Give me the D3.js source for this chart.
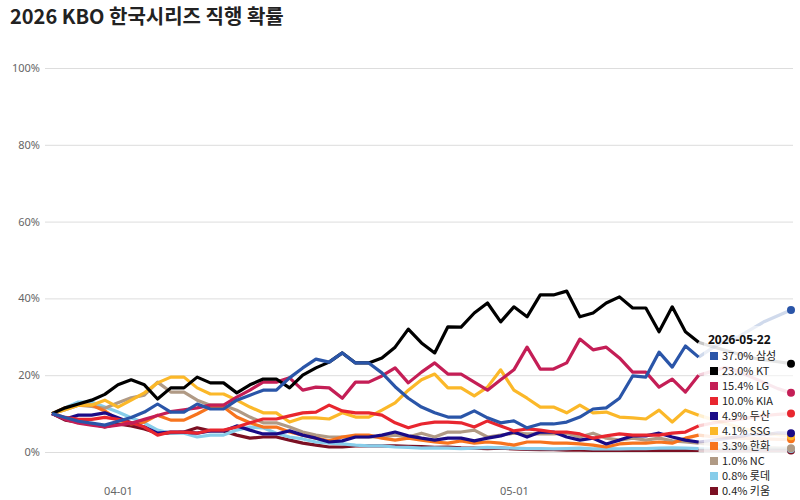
<!DOCTYPE html>
<html><head><meta charset="utf-8">
<script src="https://cdn.jsdelivr.net/npm/d3@7"></script>
<style>body{margin:0;background:#fff;font-family:"Noto Sans CJK KR","Noto Sans",sans-serif}</style>
</head><body><svg id="c" width="800" height="500"></svg>
<script>
const startDate = "2026-03-27";
const hoverIndex = 49;
const teams = ["삼성","KT","LG","KIA","두산","SSG","한화","NC","롯데","키움"];
const colors = ["#2a55a8","#000000","#c41e56","#e8262f","#1a0b86","#fbb829","#f7741e","#b09a85","#87cdea","#7b1023"];
const samsung=[10,9,8,7.5,7,8,9,10.4,12.5,10.4,10.4,12.5,11.2,11.2,13.5,14.8,16.1,16.1,19.3,21.9,24.2,23.4,25.8,23.2,23.2,20.6,17,14,11.7,10.2,9.1,9.1,10.7,8.9,7.6,8.1,6.3,7.3,7.3,7.8,9.1,11.2,11.5,14,19.8,19.5,26,22.1,27.6,24.7,27,29,30,32,34,35.5,37];
const kt=[10,11.5,12.5,13.5,15,17.5,18.8,17.5,13.8,16.7,16.7,19.5,18,18,15.4,17.5,19,19,16.7,20,21.9,23.4,25.8,23.2,23.2,24.5,27.3,32,28.4,25.8,32.6,32.5,36.2,38.8,33.9,37.8,35.2,40.9,40.9,41.9,35.2,36.2,38.8,40.4,37.5,37.5,31.3,37.8,31.3,28.6,27.5,26.5,25.5,24.5,24,23.5,23];
const lg=[10,8.5,7.5,7,6.5,7,7.5,8.5,9.5,10.5,11,11.5,12.2,12.2,14.3,16.1,18.2,18.2,19.3,16.1,16.9,16.7,14,18.2,18.2,19.8,21.9,18,20.8,23.2,20.3,20.3,18.2,16.1,18.8,21.4,27.3,21.6,21.6,23.2,29.4,26.6,27.3,24.5,20.8,20.8,16.9,19,15.6,20,21,22,21,19.5,18,16.5,15.4];
const kia=[10,9,8.5,8.5,9,8.5,7.6,6.5,4.4,5.2,5.2,4.9,5.7,5.7,6.5,7.6,8.6,8.6,9.4,10.2,10.4,12.2,10.7,10.2,10.2,9.6,7.6,6.3,7.3,7.8,7.8,7.6,6.5,8.1,6.8,5.5,6,5.7,5.2,5.2,4.7,3.6,4.2,4.7,4.4,4.4,4.4,4.9,5.2,6.8,7.5,8,8.5,9,9.5,9.8,10];
const doosan=[10,8.6,9.6,9.6,10.2,8.9,7.6,6.5,4.9,5.2,5.2,4.9,5.5,5.5,6.8,5.7,4.7,4.7,5.5,4.4,3.6,2.6,2.9,3.9,3.9,4.4,5.2,4.2,3.6,3.1,3.6,3.6,2.9,3.6,4.2,5.2,3.9,5.2,5.2,3.9,3.1,3.6,2.1,3.1,4.2,4.2,4.9,3.9,3.1,2.6,3,3.5,4,4.5,4.5,5,4.9];
const ssg=[10,11,12.2,12.2,13.5,11.7,13.5,15.4,18,19.5,19.5,16.7,15.1,15.1,13.5,11.7,10.2,10.2,7.8,8.9,8.9,8.6,10.2,9.1,9.1,10.9,12.8,16.1,18.8,20.3,16.7,16.7,14.6,16.9,21.4,16.1,14,11.7,11.7,10.2,12.2,10.2,10.4,9.1,8.9,8.6,10.9,7.8,10.9,9.6,8.5,7.5,6.5,5.5,5,4.5,4.1];
const hanwha=[10,11.5,12.2,12.2,10.7,8.3,7.3,7.8,9.6,8.3,8.3,9.9,11.7,11.7,9.1,7.6,6.5,6.5,5.2,4.4,3.6,2.9,3.9,4.4,4.4,3.6,3.1,3.6,3.1,2.6,2.3,2.9,2.3,2.6,2.3,1.8,2.6,2.6,2.3,2.3,2.1,1.8,1.3,2.1,2.3,2.3,2.6,2.3,3.6,4.4,4,3.8,3.6,3.5,3.4,3.3,3.3];
const nc=[10,11,12.2,11.9,11.4,12.8,14.1,14.8,18.2,15.6,15.6,13.5,12.2,12.2,10.9,9.1,7.6,7.6,6.5,5.2,4.4,3.9,3.9,3.9,3.9,3.9,4.4,3.9,4.9,3.9,5.2,5.2,5.7,3.9,4.4,4.9,4.7,4.7,4.7,4.9,3.9,4.9,3.6,3.1,3.6,3.1,3.6,2.9,2.6,2.3,2,1.8,1.5,1.3,1.2,1.1,1.0];
const lotte=[10,11.5,13,13,11.7,10.4,8.9,7.6,5.7,4.9,4.9,3.9,4.4,4.4,5.7,6.5,6.3,4.9,3.9,3.4,2.6,2.3,2.1,1.8,1.6,1.6,1.3,1.2,1.0,1.1,1.0,0.9,1.0,1.2,1.1,1.0,0.9,0.9,0.8,0.9,1.0,0.8,0.9,0.8,0.9,0.9,1.0,1.1,1.0,0.9,0.9,0.8,0.8,0.9,0.8,0.8,0.8];
const kiwoom=[10,8.3,7.8,7.3,6.5,7.3,6.8,6,4.9,4.9,5.2,6.3,5.5,5.5,4.4,3.6,3.9,3.9,3.1,2.3,1.8,1.3,1.3,1.6,1.6,1.6,1.6,1.5,1.4,1.2,1.3,1.1,1.0,0.9,1.0,0.8,0.7,0.6,0.6,0.5,0.5,0.4,0.4,0.5,0.4,0.4,0.4,0.5,0.4,0.4,0.4,0.4,0.4,0.4,0.4,0.4,0.4];
const finals=[37.0,23.0,15.4,10.0,4.9,4.1,3.3,1.0,0.8,0.4];
const yTicks=[0,20,40,60,80,100];
const xTickLabels=["04-01","05-01"];
const title="2026 KBO 한국시리즈 직행 확률";
const series=[samsung,kt,lg,kia,doosan,ssg,hanwha,nc,lotte,kiwoom];

const svg=d3.select("#c");
const parse=d3.timeParse("%Y-%m-%d");
const d0=parse(startDate);
const dates=samsung.map((_,i)=>d3.timeDay.offset(d0,i));
const x=d3.scaleTime().domain([d0,dates[dates.length-1]]).range([52,791]);
const y=d3.scaleLinear().domain([0,100]).range([452,68]);

svg.append("text").attr("x",10).attr("y",24).attr("font-size",20).attr("font-weight","bold").attr("fill","#222").text(title);

const gy=svg.append("g").attr("transform","translate(45,0)")
 .call(d3.axisLeft(y).tickValues(yTicks).tickFormat(d=>d+"%").tickSize(-748).tickPadding(5));
gy.select(".domain").remove();
gy.selectAll("line").attr("stroke","#ddd").attr("stroke-width",1);
gy.selectAll("text").attr("fill","#666").attr("font-size",11).attr("font-family","Noto Sans, sans-serif");

const gx=svg.append("g").attr("transform","translate(0,475)")
 .call(d3.axisBottom(x).tickValues(xTickLabels.map(s=>parse("2026-"+s))).tickFormat(d3.timeFormat("%m-%d")).tickSize(0).tickPadding(12));
gx.select(".domain").remove();
gx.selectAll("text").attr("fill","#666").attr("font-size",11).attr("font-family","Noto Sans, sans-serif");

const line=d3.line().x(d=>x(dates[d.i])).y(d=>y(d.v));
const order=d3.range(series.length).reverse();
order.forEach(k=>{
  const pts=series[k].map((v,i)=>({v,i}));
  svg.append("path").attr("d",line(pts.slice(hoverIndex))).attr("fill","none")
   .attr("stroke",colors[k]).attr("stroke-opacity",0.22).attr("stroke-width",3.2).attr("stroke-linejoin","round");
  svg.append("path").attr("d",line(pts.slice(0,hoverIndex+1))).attr("fill","none")
   .attr("stroke",colors[k]).attr("stroke-width",3.2).attr("stroke-linejoin","round");
});

const tip=svg.append("g").attr("transform","translate(707,330)");
tip.append("rect").attr("x",-3).attr("y",-4).attr("width",96).attr("height",174).attr("fill","#fff").attr("fill-opacity",0.55);
tip.append("text").attr("x",1).attr("y",14).attr("font-size",12).attr("font-weight","bold").attr("fill","#111")
 .attr("font-family","Noto Sans, sans-serif").text("2026-05-22");
teams.forEach((t,k)=>{
  const yy=22+k*15;
  tip.append("rect").attr("x",3).attr("y",yy).attr("width",8).attr("height",8).attr("fill",colors[k]);
  tip.append("text").attr("x",15).attr("y",yy+8).attr("font-size",11).attr("fill","#222")
   .attr("font-family","Noto Sans CJK KR, sans-serif").text(finals[k].toFixed(1)+"% "+t);
});

order.forEach(k=>{
  svg.append("circle").attr("cx",x(dates[dates.length-1])).attr("cy",y(series[k][series[k].length-1]))
   .attr("r",4).attr("fill",colors[k]);
});
</script></body></html>
